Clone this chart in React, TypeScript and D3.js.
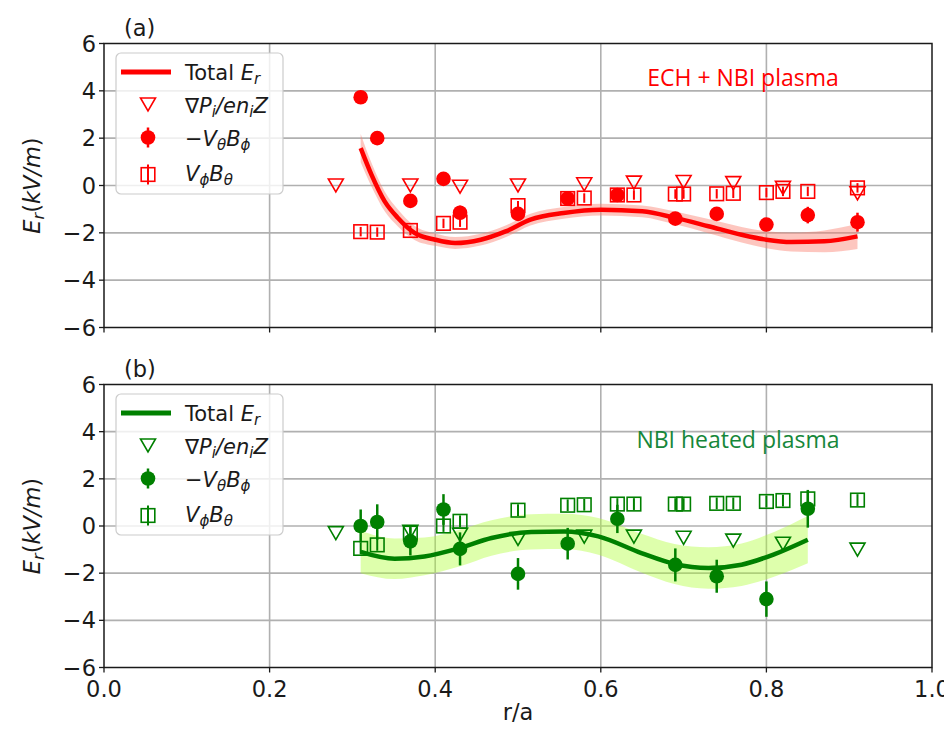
import React from 'react'
import * as d3 from 'd3'

const W = 952
const H = 732
const X0 = 96
const X1 = 924

// shared ticks
const xTicks = [0, 0.2, 0.4, 0.6, 0.8, 1.0]
const yTicks = [-6, -4, -2, 0, 2, 4, 6]

// ---- panel (a): ECH + NBI plasma ----
const lineA_r = [0.31, 0.323, 0.339, 0.355, 0.375, 0.40, 0.424, 0.455, 0.485, 0.515, 0.555, 0.60, 0.65, 0.69, 0.73, 0.77, 0.80, 0.83, 0.87, 0.91]
const lineA_v = [1.58, 0.46, -0.67, -1.37, -2.0, -2.29, -2.43, -2.29, -1.94, -1.44, -1.16, -1.02, -1.09, -1.37, -1.72, -2.08, -2.29, -2.39, -2.36, -2.15]
const bandA_hw = [0.6, 0.5, 0.42, 0.36, 0.3, 0.26, 0.25, 0.25, 0.25, 0.25, 0.25, 0.25, 0.25, 0.27, 0.3, 0.33, 0.36, 0.4, 0.46, 0.53]

const gradA_r = [0.28, 0.37, 0.43, 0.50, 0.58, 0.64, 0.70, 0.76, 0.82, 0.91]
const gradA_v = [0.0, 0.0, -0.05, 0.0, 0.05, 0.12, 0.15, 0.1, -0.1, -0.33]

const vbA_r = [0.31, 0.33, 0.37, 0.41, 0.43, 0.50, 0.56, 0.62, 0.69, 0.74, 0.80, 0.85, 0.91]
const vbA_v = [3.73, 2.0, -0.65, 0.28, -1.15, -1.2, -0.55, -0.4, -1.4, -1.2, -1.65, -1.25, -1.55]
const vbA_e = [0.15, 0.15, 0.2, 0.15, 0.3, 0.3, 0.2, 0.2, 0.2, 0.25, 0.2, 0.35, 0.4]

const vpA_r = [0.31, 0.33, 0.37, 0.41, 0.43, 0.50, 0.56, 0.58, 0.62, 0.64, 0.69, 0.70, 0.74, 0.76, 0.80, 0.82, 0.85, 0.91]
const vpA_v = [-1.95, -1.97, -1.9, -1.6, -1.55, -0.85, -0.55, -0.53, -0.4, -0.4, -0.36, -0.36, -0.35, -0.33, -0.3, -0.25, -0.25, -0.1]
const vpA_e = [0.2, 0.2, 0.2, 0.2, 0.2, 0.2, 0.2, 0.2, 0.2, 0.2, 0.2, 0.2, 0.2, 0.2, 0.2, 0.2, 0.2, 0.2]

// ---- panel (b): NBI heated plasma ----
const lineB_r = [0.31, 0.351, 0.387, 0.43, 0.468, 0.516, 0.556, 0.597, 0.649, 0.689, 0.73, 0.77, 0.81, 0.85]
const lineB_v = [-1.1, -1.39, -1.29, -0.93, -0.51, -0.25, -0.23, -0.44, -1.15, -1.61, -1.78, -1.64, -1.19, -0.58]
const bandB_hw = [0.9, 0.86, 0.8, 0.78, 0.75, 0.75, 0.75, 0.78, 0.82, 0.85, 0.88, 0.9, 0.95, 1.0]

const gradB_r = [0.28, 0.37, 0.43, 0.50, 0.58, 0.64, 0.70, 0.76, 0.82, 0.91]
const gradB_v = [-0.3, -0.25, -0.37, -0.55, -0.45, -0.45, -0.5, -0.62, -0.75, -1.0]

const vbB_r = [0.31, 0.33, 0.37, 0.41, 0.43, 0.50, 0.56, 0.62, 0.69, 0.74, 0.80, 0.85]
const vbB_v = [0.0, 0.17, -0.65, 0.7, -0.97, -2.03, -0.75, 0.3, -1.65, -2.13, -3.1, 0.73]
const vbB_e = [0.7, 0.75, 0.6, 0.65, 0.7, 0.67, 0.67, 0.6, 0.7, 0.7, 0.75, 0.8]

const vpB_r = [0.31, 0.33, 0.37, 0.41, 0.43, 0.50, 0.56, 0.58, 0.62, 0.64, 0.69, 0.70, 0.74, 0.76, 0.80, 0.82, 0.85, 0.91]
const vpB_v = [-0.95, -0.8, -0.3, 0.0, 0.2, 0.67, 0.88, 0.9, 0.93, 0.93, 0.93, 0.93, 0.96, 0.96, 1.04, 1.08, 1.15, 1.1]
const vpB_e = [0.25, 0.25, 0.25, 0.25, 0.25, 0.25, 0.25, 0.25, 0.25, 0.25, 0.25, 0.25, 0.25, 0.25, 0.25, 0.25, 0.25, 0.25]

const FONT = 'DejaVu Sans'
const triDown = 'M-7.5,-6.5L7.5,-6.5L0,6.5Z'
const SQ = 6.8

const minus = (v: number) => (v < 0 ? '\u2212' + Math.abs(v) : String(v))

function Legend({ x, y, color }: any) {
    const rows = [y + 19, y + 51.5, y + 84.5, y + 121.5]
    const mx = x + 32
    const tx = x + 69
    const fs = 21
    const sub = 15
    return (
        <g>
            <rect x={x} y={y} width={167} height={141} rx={5} fill="white" fillOpacity={0.8} stroke="#cccccc" strokeWidth={1.2} />
            <line x1={x + 5} x2={x + 55} y1={rows[0]} y2={rows[0]} stroke={color} strokeWidth={5} />
            <text x={tx} y={rows[0] + 8} fontFamily={FONT} fontSize={fs} fill="#1a1a1a">
                Total <tspan fontStyle="italic">E</tspan><tspan fontStyle="italic" fontSize={sub} dy={4}>r</tspan>
            </text>
            <path d={triDown} transform={`translate(${mx},${rows[1]})`} fill="white" stroke={color} strokeWidth={1.6} />
            <text x={tx} y={rows[1] + 8} fontFamily={FONT} fontSize={fs} fill="#1a1a1a">
                ∇<tspan fontStyle="italic">P</tspan><tspan fontStyle="italic" fontSize={sub} dy={4}>i</tspan>
                <tspan fontStyle="italic" dy={-4}>/en</tspan><tspan fontStyle="italic" fontSize={sub} dy={4}>i</tspan>
                <tspan fontStyle="italic" dy={-4}>Z</tspan>
            </text>
            <line x1={mx} x2={mx} y1={rows[2] - 10} y2={rows[2] + 10} stroke={color} strokeWidth={2.5} />
            <circle cx={mx} cy={rows[2]} r={7.3} fill={color} />
            <text x={tx} y={rows[2] + 8} fontFamily={FONT} fontSize={fs} fill="#1a1a1a">
                −<tspan fontStyle="italic">V</tspan><tspan fontStyle="italic" fontSize={sub} dy={4}>θ</tspan>
                <tspan fontStyle="italic" dy={-4}>B</tspan><tspan fontStyle="italic" fontSize={sub} dy={4}>ϕ</tspan>
            </text>
            <rect x={mx - SQ} y={rows[3] - SQ} width={SQ * 2} height={SQ * 2} fill="white" stroke={color} strokeWidth={1.6} />
            <line x1={mx} x2={mx} y1={rows[3] - 10} y2={rows[3] + 10} stroke={color} strokeWidth={2} />
            <text x={tx} y={rows[3] + 6} fontFamily={FONT} fontSize={fs} fill="#1a1a1a">
                <tspan fontStyle="italic">V</tspan><tspan fontStyle="italic" fontSize={sub} dy={4}>ϕ</tspan>
                <tspan fontStyle="italic" dy={-4}>B</tspan><tspan fontStyle="italic" fontSize={sub} dy={4}>θ</tspan>
            </text>
        </g>
    )
}

function Panel(props: any) {
    const { top, bottom, color, bandFill, bandOpacity, lr, lv, hw, gr, gv, br, bv, be, pr, pv, pe, tag, note, noteColor, noteX, noteY, showX } = props
    const x = d3.scaleLinear().domain([0, 1]).range([X0, X1])
    const y = d3.scaleLinear().domain([-6, 6]).range([bottom, top])
    const pts = lr.map((r: number, i: number) => ({ r, v: lv[i], h: hw[i] }))
    const line = d3.line<any>().x(d => x(d.r)).y(d => y(d.v)).curve(d3.curveMonotoneX)
    const area = d3.area<any>().x(d => x(d.r)).y0(d => y(d.v - d.h)).y1(d => y(d.v + d.h)).curve(d3.curveMonotoneX)
    const midY = (top + bottom) / 2
    return (
        <g>
            {/* grid */}
            {xTicks.slice(1, -1).map(t => (
                <line key={'gx' + t} x1={x(t)} x2={x(t)} y1={top} y2={bottom} stroke="#b0b0b0" strokeWidth={1.6} />
            ))}
            {yTicks.slice(1, -1).map(t => (
                <line key={'gy' + t} x1={X0} x2={X1} y1={y(t)} y2={y(t)} stroke="#b0b0b0" strokeWidth={1.6} />
            ))}
            {/* band + total Er */}
            <path d={area(pts) || ''} fill={bandFill} fillOpacity={bandOpacity} />
            <path d={line(pts) || ''} fill="none" stroke={color} strokeWidth={4.5} />
            {/* V_phi B_theta squares */}
            {pr.map((r: number, i: number) => (
                <g key={'sq' + i}>
                    <rect x={x(r) - SQ} y={y(pv[i]) - SQ} width={SQ * 2} height={SQ * 2} fill="none" stroke={color} strokeWidth={1.6} />
                    <line x1={x(r)} x2={x(r)} y1={y(pv[i] - pe[i])} y2={y(pv[i] + pe[i])} stroke={color} strokeWidth={2} />
                </g>
            ))}
            {/* grad P triangles */}
            {gr.map((r: number, i: number) => (
                <path key={'tr' + i} d={triDown} transform={`translate(${x(r)},${y(gv[i])})`} fill="none" stroke={color} strokeWidth={1.6} />
            ))}
            {/* -V_theta B_phi circles */}
            {br.map((r: number, i: number) => (
                <g key={'ci' + i}>
                    <line x1={x(r)} x2={x(r)} y1={y(bv[i] - be[i])} y2={y(bv[i] + be[i])} stroke={color} strokeWidth={2.5} />
                    <circle cx={x(r)} cy={y(bv[i])} r={7.3} fill={color} />
                </g>
            ))}
            {/* frame */}
            <rect x={X0} y={top} width={X1 - X0} height={bottom - top} fill="none" stroke="#1a1a1a" strokeWidth={1.5} />
            {yTicks.map(t => (
                <g key={'ty' + t}>
                    <line x1={X0 - 5} x2={X0} y1={y(t)} y2={y(t)} stroke="#1a1a1a" strokeWidth={1.3} />
                    <text x={X0 - 8} y={y(t) + 8} textAnchor="end" fontFamily={FONT} fontSize={22.5} fill="#1a1a1a">{minus(t)}</text>
                </g>
            ))}
            {xTicks.map(t => (
                <g key={'tx' + t}>
                    <line x1={x(t)} x2={x(t)} y1={bottom} y2={bottom + 5} stroke="#1a1a1a" strokeWidth={1.3} />
                    {showX && (
                        <text x={x(t)} y={bottom + 29} textAnchor="middle" fontFamily={FONT} fontSize={22.5} fill="#1a1a1a">{t.toFixed(1)}</text>
                    )}
                </g>
            ))}
            <text x={X0 + 20} y={top - 8} fontFamily={FONT} fontSize={22.5} fill="#1a1a1a">{tag}</text>
            <text transform={`translate(32,${midY}) rotate(-90)`} textAnchor="middle" fontFamily={FONT} fontSize={22.5} fill="#1a1a1a">
                <tspan fontStyle="italic">E</tspan><tspan fontStyle="italic" fontSize={16} dy={4}>r</tspan>
                <tspan dy={-4}>(</tspan><tspan fontStyle="italic">kV/m</tspan><tspan>)</tspan>
            </text>
            <text x={noteX} y={noteY} textAnchor="middle" fontFamily="Open Sans" fontSize={23} fill={noteColor}>{note}</text>
            <Legend x={108} y={top + 9.5} color={color} />
        </g>
    )
}

export default function App() {
    return (
        <svg width={W} height={H} style={{ display: 'block', background: 'white' }}>
            <Panel top={35.5} bottom={319.5} color="#ff0000" bandFill="#fa8072" bandOpacity={0.45}
                lr={lineA_r} lv={lineA_v} hw={bandA_hw} gr={gradA_r} gv={gradA_v}
                br={vbA_r} bv={vbA_v} be={vbA_e} pr={vpA_r} pv={vpA_v} pe={vpA_e}
                tag="(a)" note="ECH + NBI plasma" noteColor="#ff0000" noteX={735} noteY={78} showX={false} />
            <Panel top={376.5} bottom={659.5} color="#008000" bandFill="#adff2f" bandOpacity={0.4}
                lr={lineB_r} lv={lineB_v} hw={bandB_hw} gr={gradB_r} gv={gradB_v}
                br={vbB_r} bv={vbB_v} be={vbB_e} pr={vpB_r} pv={vpB_v} pe={vpB_e}
                tag="(b)" note="NBI heated plasma" noteColor="#16873a" noteX={730} noteY={440} showX={true} />
            <text x={(X0 + X1) / 2} y={712} textAnchor="middle" fontFamily={FONT} fontSize={22.5} fill="#1a1a1a">r/a</text>
        </svg>
    )
}
